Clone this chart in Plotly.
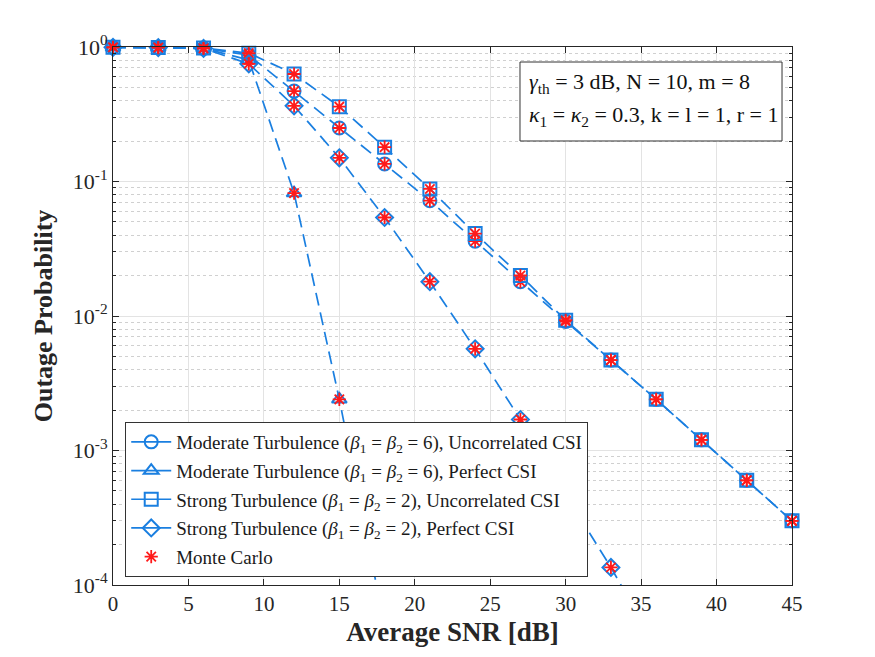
import plotly.graph_objects as go

snr = [0, 3, 6, 9, 12, 15, 18, 21, 24, 27, 30, 33, 36, 39, 42, 45]

mod_uncorr = [0.995, 0.993, 0.98, 0.87, 0.47, 0.25, 0.135, 0.072, 0.036, 0.018,
              0.0091, 0.0047, 0.0024, 0.0012, 0.0006, 0.0003]
snr_mod_perf = [0, 3, 6, 9, 12, 15, 18]
mod_perf = [0.995, 0.993, 0.98, 0.80, 0.082, 0.0024, 0.00005]
str_uncorr = [0.995, 0.993, 0.985, 0.90, 0.63, 0.36, 0.18, 0.088, 0.041, 0.020,
              0.0093, 0.0047, 0.0024, 0.0012, 0.0006, 0.0003]
snr_str_perf = [0, 3, 6, 9, 12, 15, 18, 21, 24, 27, 30, 33, 36]
str_perf = [0.995, 0.99, 0.975, 0.75, 0.365, 0.15, 0.054, 0.018, 0.0057, 0.0017,
            0.00047, 0.000135, 0.000035]

names = [
    "Moderate Turbulence (<i>β</i><sub>1</sub> = <i>β</i><sub>2</sub> = 6), Uncorrelated CSI",
    "Moderate Turbulence (<i>β</i><sub>1</sub> = <i>β</i><sub>2</sub> = 6), Perfect CSI",
    "Strong Turbulence (<i>β</i><sub>1</sub> = <i>β</i><sub>2</sub> = 2), Uncorrelated CSI",
    "Strong Turbulence (<i>β</i><sub>1</sub> = <i>β</i><sub>2</sub> = 2), Perfect CSI",
]
symbols = ["circle-open", "triangle-up-open", "square-open", "diamond-open"]
series = [(snr, mod_uncorr), (snr_mod_perf, mod_perf), (snr, str_uncorr), (snr_str_perf, str_perf)]

info_lines = ["<i>γ</i><sub>th</sub> = 3 dB, N = 10, m = 8",
              "<i>κ</i><sub>1</sub> = <i>κ</i><sub>2</sub> = 0.3, k = l = 1, r = 1"]

ytickvals = [1e-4, 1e-3, 1e-2, 1e-1, 1]
yticktext = ["10<sup>-4</sup>", "10<sup>-3</sup>", "10<sup>-2</sup>", "10<sup>-1</sup>", "10<sup>0</sup>"]
xtickvals = [0, 5, 10, 15, 20, 25, 30, 35, 40, 45]

blue = "#1a7fe0"
red = "#ff1a1a"
ymin = 1e-4

fig = go.Figure()
for i, ((xs, ys), nm, sym) in enumerate(zip(series, names, symbols)):
    fig.add_trace(go.Scatter(x=xs, y=ys, mode="lines", line=dict(color=blue, width=1.7, dash="13px,7px"),
                             showlegend=False, hoverinfo="skip"))
    xin = [a for a, b in zip(xs, ys) if b >= ymin]
    yin = [b for b in ys if b >= ymin]
    fig.add_trace(go.Scatter(x=xin, y=yin, mode="markers", cliponaxis=False,
                             marker=dict(symbol=sym, size=13, color=blue, line=dict(width=2, color=blue)),
                             showlegend=False))
    fig.add_trace(go.Scatter(x=xin, y=yin, mode="markers", cliponaxis=False,
                             marker=dict(symbol="asterisk-open", size=11, color=red, line=dict(width=1.8, color=red)),
                             showlegend=False))
    # legend entry
    fig.add_trace(go.Scatter(x=[None], y=[None], mode="lines+markers", name=nm, legendgroup=f"g{i}",
                             line=dict(color=blue, width=1.7),
                             marker=dict(symbol=sym, size=13, color=blue, line=dict(width=2, color=blue))))
fig.add_trace(go.Scatter(x=[None], y=[None], mode="markers", name="Monte Carlo", legendgroup="g9",
                         marker=dict(symbol="asterisk-open", size=11, color=red, line=dict(width=1.8, color=red))))

font_family = "Liberation Serif"
fig.update_layout(
    width=875, height=657,
    margin=dict(l=113, r=83, t=47, b=72),
    paper_bgcolor="white", plot_bgcolor="white",
    font=dict(family=font_family, size=21, color="#262626"),
    showlegend=True,
    legend=dict(x=0.018, y=0.303, xanchor="left", yanchor="top",
                bgcolor="white", bordercolor="#333333", borderwidth=1,
                font=dict(family=font_family, size=19, color="#1a1a1a"),
                traceorder="grouped", tracegroupgap=1, itemwidth=40),
    shapes=[dict(type="rect", xref="paper", yref="paper", x0=0.5994, x1=0.9853, y0=0.8253, y1=0.9721,
                 line=dict(color="#333333", width=1), fillcolor="white", layer="above")],
    annotations=[
        dict(text=info_lines[0], xref="paper", yref="paper", x=0.6097, y=0.933, xanchor="left", yanchor="middle",
             showarrow=False, align="left", font=dict(family=font_family, size=22, color="#111111")),
        dict(text=info_lines[1], xref="paper", yref="paper", x=0.6097, y=0.872, xanchor="left", yanchor="middle",
             showarrow=False, align="left", font=dict(family=font_family, size=22, color="#111111")),
    ],
)
fig.update_xaxes(
    range=[0, 45], tickvals=xtickvals, showgrid=True, gridcolor="#e3e3e3", gridwidth=1,
    ticks="inside", ticklen=6, tickcolor="#262626", showline=True, linecolor="#262626", linewidth=1,
    mirror="allticks", zeroline=False, tickfont=dict(size=21),
    title=dict(text="<b>Average SNR [dB]</b>", font=dict(family=font_family, size=27, color="#262626"), standoff=6),
)
fig.update_yaxes(
    type="log", range=[-4, 0], tickvals=ytickvals, ticktext=yticktext,
    showgrid=True, gridcolor="#e3e3e3", gridwidth=1,
    ticks="inside", ticklen=6, tickcolor="#262626", showline=True, linecolor="#262626", linewidth=1,
    mirror="allticks", zeroline=False, tickfont=dict(size=22),
    minor=dict(ticks="inside", ticklen=3, tickcolor="#262626", showgrid=True, gridcolor="#d0d0d0", griddash="dot",
               tickvals=[m * 10 ** e for e in range(-4, 0) for m in range(2, 10)]),
    title=dict(text="<b>Outage Probability</b>", font=dict(family=font_family, size=26, color="#262626"), standoff=12),
)

fig.write_html("out.html")
